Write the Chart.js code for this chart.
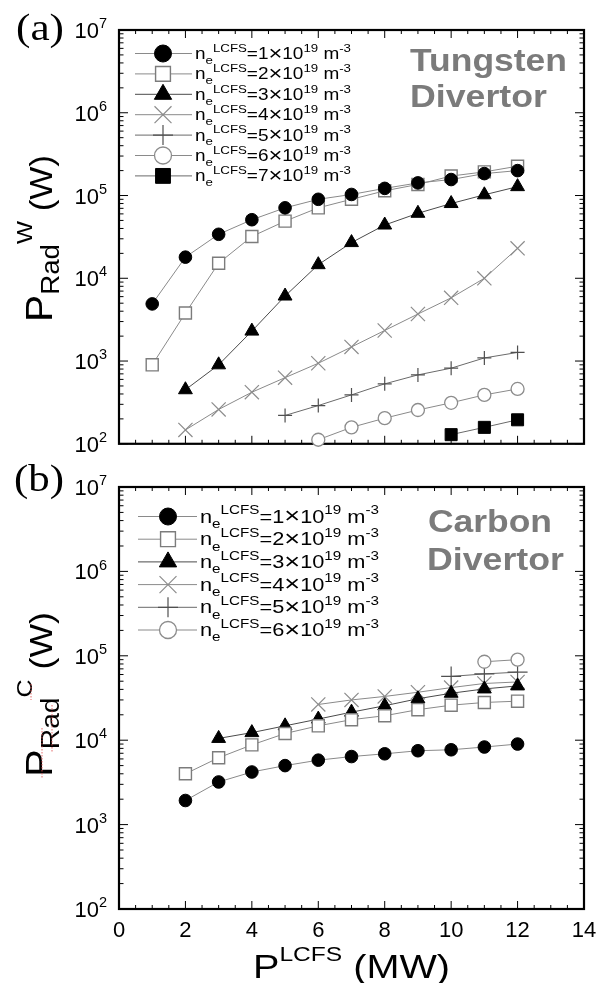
<!DOCTYPE html>
<html>
<head>
<meta charset="utf-8">
<script src="https://cdn.jsdelivr.net/npm/chart.js@4.4.0/dist/chart.umd.min.js"></script>
<style>
  body { margin: 0; background: #fff; }
  #wrap { position: relative; width: 604px; height: 983px; }
  canvas { position: absolute; left: 0; }
</style>
</head>
<body>
<div id="wrap">
  <canvas id="chartW" width="604" height="455" style="top:0"></canvas>
  <canvas id="chartC" width="604" height="528" style="top:455px"></canvas>
</div>
<script>
// P^LCFS in MW
const powerMW = [1, 2, 3, 4, 5, 6, 7, 8, 9, 10, 11, 12];

// (a) tungsten divertor, P_Rad^W in W, one array per ne^LCFS (1..7 x 10^19 m^-3)
const tungsten1 = [4900, 18000, 34000, 51000, 71000, 90000, 103000, 122000, 142000, 156000, 184000, 200000];
const tungsten2 = [900, 3800, 15200, 32000, 49000, 71000, 90000, 114000, 136000, 172000, 193000, 226000];
const tungsten3 = [null, 450, 900, 2300, 6100, 14600, 27000, 44000, 61000, 80000, 102000, 128000];
const tungsten4 = [null, 147, 260, 420, 630, 940, 1480, 2340, 3700, 5800, 10000, 23000];
const tungsten5 = [null, null, null, null, 220, 290, 390, 530, 680, 820, 1090, 1270];
const tungsten6 = [null, null, null, null, null, 112, 158, 204, 256, 313, 390, 460];
const tungsten7 = [null, null, null, null, null, null, null, null, null, 129, 158, 195];

// (b) carbon divertor, P_Rad^C in W
const carbon1 = [null, 1930, 3200, 4200, 5000, 5800, 6400, 6900, 7500, 7700, 8300, 9000];
const carbon2 = [null, 4000, 6200, 8800, 12000, 14800, 17500, 19500, 23000, 26000, 28000, 29000];
const carbon3 = [null, null, 10500, 12300, 14800, 17800, 21500, 25600, 31000, 36000, 40500, 44000];
const carbon4 = [null, null, null, null, null, 26500, 30000, 33000, 37000, 42000, 47000, 49000];
const carbon5 = [null, null, null, null, null, null, null, null, null, 57000, 61000, 64000];
const carbon6 = [null, null, null, null, null, null, null, null, null, null, 85000, 90000];

const densities = [1, 2, 3, 4, 5, 6, 7];
const xTicks = [0, 2, 4, 6, 8, 10, 12, 14];
const yExponents = [2, 3, 4, 5, 6, 7];

const SANS = '"Liberation Sans", Arimo, Arial, sans-serif';
const SERIF = '"Liberation Serif", Tinos, "Times New Roman", serif';

// marker look per density
const looks = [
  { style: 'circle', r: 6.3, fill: '#000', stroke: '#000', bw: 1, line: '#8a8a8a', lr: 8.5 },
  { style: 'rect', r: 8.5, fill: '#fff', stroke: '#7c7c7c', bw: 1.4, line: '#8a8a8a', lr: 10.5 },
  { style: 'triangle', r: 8, fill: '#000', stroke: '#000', bw: 1, line: '#4a4a4a', lr: 10 },
  { style: 'crossRot', r: 10, fill: '#fff', stroke: '#8c8c8c', bw: 1.2, line: '#8a8a8a', lr: 12 },
  { style: 'cross', r: 7, fill: '#fff', stroke: '#505050', bw: 1.2, line: '#6a6a6a', lr: 10 },
  { style: 'circle', r: 6.5, fill: '#fff', stroke: '#8c8c8c', bw: 1.3, line: '#8a8a8a', lr: 8.5 },
  { style: 'rect', r: 8.5, fill: '#000', stroke: '#000', bw: 1, line: '#6a6a6a', lr: 10.5 },
];

function points(ys) {
  return powerMW.map((x, i) => ({ x: x, y: ys[i] })).filter(p => p.y != null);
}

function makeSet(ys, i, over) {
  const lk = Object.assign({}, looks[i], over || {});
  return {
    label: 'n' + densities[i],
    data: points(ys),
    borderColor: lk.line,
    borderWidth: 1,
    pointStyle: lk.style,
    pointRadius: lk.r,
    pointBackgroundColor: lk.fill,
    pointBorderColor: lk.stroke,
    pointBorderWidth: lk.bw,
    tension: 0,
    fill: false,
    clip: false,
    order: lk.order || 0,
    look: lk
  };
}

// text made of runs: {t, s: size factor, dy: baseline shift in em}
function drawRich(ctx, parts, o) {
  ctx.save();
  const fam = o.family || SANS;
  const weight = o.weight || 'normal';
  let w = 0;
  const runs = parts.map(p => {
    const font = weight + ' ' + (o.size * (p.s || 1)).toFixed(1) + 'px ' + fam;
    ctx.font = font;
    const r = { t: p.t, font: font, x: w, dy: (p.dy || 0) * o.size };
    w += ctx.measureText(p.t).width;
    return r;
  });
  const sx = o.width ? o.width / w : 1;
  ctx.translate(o.x, o.y);
  if (o.rotate) ctx.rotate(o.rotate);
  ctx.scale(sx, 1);
  const x0 = o.align === 'center' ? -w / 2 : o.align === 'right' ? -w : 0;
  ctx.fillStyle = o.color || '#000';
  ctx.textAlign = 'left';
  ctx.textBaseline = 'alphabetic';
  runs.forEach(r => { ctx.font = r.font; ctx.fillText(r.t, x0 + r.x, r.dy); });
  ctx.restore();
}

function line(ctx, x1, y1, x2, y2) {
  ctx.beginPath(); ctx.moveTo(x1, y1); ctx.lineTo(x2, y2); ctx.stroke();
}

const framePlugin = {
  id: 'frame',
  beforeDatasetsDraw(chart) {
    const ctx = chart.ctx;
    const { left, right, top, bottom } = chart.chartArea;
    const xs = chart.scales.x, ys = chart.scales.y;
    ctx.save();
    ctx.strokeStyle = '#000';
    ctx.lineWidth = 1;
    for (let v = 0; v <= 14; v += 0.5) {
      const px = xs.getPixelForValue(v);
      const len = v % 2 === 0 ? 8 : 4;
      line(ctx, px, bottom, px, bottom - len);
      line(ctx, px, top, px, top + len);
    }
    for (let e = 2; e < 7; e++) {
      for (let m = 1; m < 10; m++) {
        const py = ys.getPixelForValue(m * Math.pow(10, e));
        const len = m === 1 ? 9 : 4.5;
        line(ctx, left, py, left + len, py);
        line(ctx, right, py, right - len, py);
      }
    }
    ctx.lineWidth = 2.2;
    ctx.strokeRect(left, top, right - left, bottom - top);
    ctx.restore();
  },
  afterDraw(chart, args, opts) {
    const ctx = chart.ctx;
    const xs = chart.scales.x, ys = chart.scales.y;
    const off = opts.top;
    ctx.save();
    ctx.translate(0, -off);

    // y tick labels 10^n
    yExponents.forEach(e => {
      const py = ys.getPixelForValue(Math.pow(10, e)) + off;
      drawRich(ctx, [{ t: '10' }, { t: String(e), s: 0.66, dy: -0.45 }], { x: 107, y: py + 8, size: 22, align: 'right' });
    });

    // x tick labels (bottom panel only)
    if (opts.xLabels) {
      xTicks.forEach(v => {
        drawRich(ctx, [{ t: String(v) }], { x: xs.getPixelForValue(v), y: 937, size: 22, align: 'center' });
      });
      drawRich(ctx, [{ t: 'P' }, { t: 'LCFS', s: 0.62, dy: -0.5 }, { t: ' (MW)' }],
        { x: 253, y: 978, size: 34, width: 197 });
    }

    // panel tag
    drawRich(ctx, [{ t: opts.tag }], { x: opts.tagX, y: opts.tagY, size: 38, family: SERIF, width: opts.tagW });

    // y axis title
    drawRich(ctx, [{ t: 'P' }, { t: 'Rad', s: 0.68, dy: 0.2 }, { t: opts.sup, s: 0.6, dy: -0.55 }, { t: ' (W)', s: 0.86 }],
      { x: 52, y: opts.titleY, size: 37, rotate: -Math.PI / 2, width: opts.titleW });

    // divertor label
    drawRich(ctx, [{ t: opts.name }], { x: opts.nameX, y: opts.nameY, size: 32, weight: 'bold', color: '#7b7b7b', width: opts.nameW });
    drawRich(ctx, [{ t: 'Divertor' }], { x: opts.nameX2, y: opts.nameY + opts.nameGap, size: 32, weight: 'bold', color: '#7b7b7b', width: 137 });

    // legend
    const lg = opts.legend;
    chart.data.datasets.forEach((ds, i) => {
      const lk = ds.look;
      const y = lg.y0 + i * lg.dy;
      ctx.strokeStyle = lk.line;
      ctx.lineWidth = 1;
      line(ctx, lg.x0, y, lg.x1, y);
      ctx.fillStyle = lk.fill;
      ctx.strokeStyle = lk.stroke;
      ctx.lineWidth = lk.bw;
      Chart.helpers.drawPoint(ctx, { pointStyle: lk.style, rotation: 0, radius: lk.lr, borderWidth: lk.bw }, lg.mx, y);
      drawRich(ctx, [
        { t: 'n' }, { t: 'e', s: 0.7, dy: 0.3 }, { t: 'LCFS', s: 0.7, dy: -0.45 },
        { t: '=' + densities[i] }, { t: '×', s: 1.25, dy: 0.05 }, { t: '10' }, { t: '19', s: 0.7, dy: -0.45 }, { t: ' m' }, { t: '-3', s: 0.7, dy: -0.45 }
      ], { x: lg.tx, y: y + lg.base, size: lg.size, width: lg.tw });
    });

    // red spell-check marks under the carbon axis title
    if (opts.marks) {
      ctx.strokeStyle = 'rgba(225,80,80,0.85)';
      ctx.lineWidth = 1;
      ctx.setLineDash([1.5, 1.5]);
      opts.marks.forEach(m => line(ctx, m[0], m[1], m[0], m[2]));
    }
    ctx.restore();
  }
};

function baseOptions(pad, extra) {
  return {
    responsive: false,
    animation: false,
    devicePixelRatio: 1,
    events: [],
    layout: { padding: pad },
    scales: {
      x: { type: 'linear', min: 0, max: 14, display: false },
      y: { type: 'logarithmic', min: 100, max: 1e7, display: false }
    },
    plugins: { legend: { display: false }, tooltip: { enabled: false }, frame: extra }
  };
}

new Chart(document.getElementById('chartW').getContext('2d'), {
  type: 'line',
  data: {
    datasets: [tungsten1, tungsten2, tungsten3, tungsten4, tungsten5, tungsten6, tungsten7].map((s, i) => makeSet(s, i))
  },
  options: baseOptions({ left: 119, right: 20, top: 30, bottom: 5 }, {
    top: 0, xLabels: false, tag: '(a)', tagX: 16, tagY: 40, tagW: 48,
    sup: 'W', titleY: 322, titleW: 167,
    name: 'Tungsten', nameX: 410, nameY: 71, nameW: 157, nameX2: 410, nameGap: 36,
    legend: { y0: 53.5, dy: 20.4, x0: 135, x1: 192, mx: 163, tx: 195, tw: 156, size: 16, base: 5.5 }
  }),
  plugins: [framePlugin]
});

new Chart(document.getElementById('chartC').getContext('2d'), {
  type: 'line',
  data: {
    datasets: [
      makeSet(carbon1, 0), makeSet(carbon2, 1), makeSet(carbon3, 2), makeSet(carbon4, 3),
      makeSet(carbon5, 4, { r: 10 }), makeSet(carbon6, 5, { order: -1 })
    ]
  },
  options: baseOptions({ left: 119, right: 20, top: 32, bottom: 74 }, {
    top: 455, xLabels: true, tag: '(b)', tagX: 14, tagY: 491, tagW: 50,
    sup: 'C', titleY: 777, titleW: 165,
    name: 'Carbon', nameX: 428, nameY: 532, nameW: 124, nameX2: 427, nameGap: 38,
    legend: { y0: 516.5, dy: 22.7, x0: 138, x1: 197, mx: 168, tx: 200, tw: 179, size: 18, base: 6 },
    marks: [[31, 684, 700], [42, 728, 778], [52, 705, 752]]
  }),
  plugins: [framePlugin]
});
</script>
</body>
</html>
